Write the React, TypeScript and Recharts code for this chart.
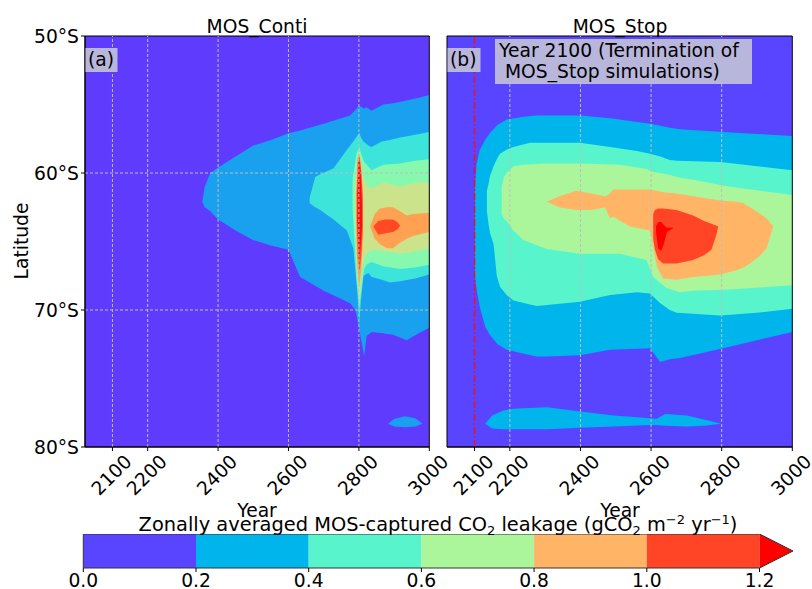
import React from 'react';
import { ComposedChart, Area, XAxis, YAxis, ReferenceLine, ReferenceArea, BarChart, Bar } from 'recharts';

// [year, northern edge °S, southern edge °S]
type Band = [number, number, number];

const FONT = '"DejaVu Sans", sans-serif';
const FS = 18.7;

const yearDomain: [number, number] = [2022, 3000];
const yearTicks = [2100, 2200, 2400, 2600, 2800, 3000];
const gridYearsA = [2100, 2200, 2400, 2600, 2800];
const gridYearsB = [2200, 2400, 2600, 2800];
const latTicks = [50, 60, 70, 80];
const gridLats = [60, 70];
const terminationYear = 2100;
const levelTicks = [0, 0.2, 0.4, 0.6, 0.8, 1.0, 1.2];

const contiColors = ['#5f3bfe', '#19a0ef', '#3de4d9', '#86f9af', '#cbe38b', '#ffa153', '#ff4a24', '#ff0d0d'];
const stopColors = ['#5945ff', '#00b5eb', '#58f5cd', '#abf69b', '#ffb466', '#ff4526', '#ff0000'];

const fullBand: Band[] = [[2022, 50, 80], [3000, 50, 80]];

// ---- MOS_Conti ----
const contiL1: Band[] = [
  [2355, 62.1, 62.1], [2362, 61.0, 62.5], [2378, 60.0, 62.8], [2400, 59.6, 63.4],
  [2450, 58.8, 64.2], [2500, 58.0, 64.9], [2550, 57.6, 65.3], [2600, 57.1, 65.6],
  [2633, 56.9, 67.6], [2700, 56.4, 68.6], [2750, 56.0, 69.2], [2775, 55.8, 69.5],
  [2790, 55.4, 70.0], [2800, 55.1, 71.3], [2815, 55.3, 73.4], [2822, 55.2, 71.9],
  [2836, 55.45, 71.6], [2869, 55.0, 71.7], [2897, 54.9, 71.8], [2936, 54.7, 72.2],
  [2970, 54.5, 71.7], [3000, 54.3, 71.3],
];
const contiL1South: Band[] = [
  [2883, 78.3, 78.3], [2900, 77.95, 78.5], [2931, 77.75, 78.55], [2960, 77.9, 78.5], [2981, 78.3, 78.3],
];
const contiL2: Band[] = [
  [2660, 61.8, 62.2], [2676, 60.3, 62.5], [2690, 60.1, 62.7], [2728, 59.66, 63.4],
  [2766, 58.3, 64.2], [2784, 57.7, 65.5], [2795, 57.3, 68.5], [2801, 57.06, 70.8],
  [2806, 57.4, 69.3], [2813, 57.7, 67.5], [2827, 58.0, 67.3], [2836, 58.1, 67.6],
  [2865, 57.7, 67.8], [2888, 57.6, 68.0], [2917, 57.4, 67.9], [2960, 57.2, 67.7], [3000, 57.0, 67.4],
];
const contiL3: Band[] = [
  [2782, 60.5, 62.5], [2793, 58.6, 67.5], [2801, 58.1, 69.8], [2808, 58.7, 68.3],
  [2815, 59.2, 67.0], [2822, 59.4, 66.7], [2836, 59.8, 66.5], [2869, 59.4, 66.8],
  [2917, 59.3, 67.0], [2960, 59.1, 66.9], [3000, 59.0, 66.7],
];
const contiL4: Band[] = [
  [2790, 61.0, 63.5], [2795, 59.3, 67.2], [2801, 58.5, 69.2], [2808, 59.5, 67.2],
  [2815, 60.5, 66.2], [2825, 61.0, 65.8], [2840, 61.1, 65.6], [2869, 60.7, 65.7],
  [2917, 61.0, 65.9], [2964, 60.7, 65.7], [3000, 60.7, 65.5],
];
const contiL5Spike: Band[] = [[2792, 61.5, 64.0], [2796, 59.0, 67.0], [2801, 58.6, 68.3], [2807, 59.6, 67.0], [2812, 61.5, 64.5]];
const contiL5: Band[] = [
  [2832, 63.9, 63.9], [2845, 63.0, 64.8], [2860, 62.6, 65.2], [2880, 62.5, 65.5], [2897, 62.5, 65.5],
  [2917, 62.8, 65.1], [2936, 63.1, 64.8], [2954, 63.0, 64.6], [3000, 62.9, 64.3],
];
const contiL6Spike: Band[] = [[2794, 61.5, 63.5], [2797, 59.2, 66.2], [2802, 58.8, 67.2], [2807, 60.0, 66.0], [2811, 62.0, 64.0]];
const contiL6: Band[] = [
  [2841, 63.9, 63.9], [2855, 63.5, 64.5], [2875, 63.4, 64.4], [2897, 63.4, 64.3], [2910, 63.6, 64.1], [2917, 63.85, 63.85],
];
const contiL7: Band[] = [[2796, 61.5, 63.5], [2799, 59.3, 65.5], [2802, 59.0, 66.2], [2806, 60.5, 65.0], [2809, 62.5, 63.8]];

// ---- MOS_Stop ----
const stopL1: Band[] = [
  [2101, 61.0, 67.5], [2106, 59.3, 68.5], [2115, 58.3, 69.8], [2130, 57.6, 71.2], [2143, 57.1, 71.8],
  [2165, 56.5, 72.5], [2191, 56.1, 72.9], [2240, 55.9, 73.2], [2276, 55.8, 73.4], [2305, 55.8, 73.4],
  [2398, 55.8, 73.3], [2484, 56.0, 72.9], [2597, 56.4, 72.8], [2626, 56.55, 73.8], [2653, 56.7, 73.6],
  [2682, 56.8, 73.5], [2804, 57.0, 72.8], [2900, 57.15, 72.2], [3000, 57.3, 71.6],
];
const stopL1South: Band[] = [
  [2130, 78.3, 78.3], [2150, 77.7, 78.65], [2180, 77.35, 78.7], [2210, 77.2, 78.7], [2305, 77.1, 78.7],
  [2399, 77.4, 78.6], [2494, 77.7, 78.5], [2597, 77.9, 78.4], [2615, 77.95, 78.4], [2640, 77.6, 78.45],
  [2701, 77.7, 78.5], [2750, 78.0, 78.45], [2798, 78.3, 78.3],
];
const stopL2: Band[] = [
  [2135, 61.3, 62.8], [2140, 60.75, 63.8], [2144, 60.2, 64.4], [2154, 59.5, 65.2], [2163, 59.0, 67.5],
  [2172, 58.6, 68.3], [2191, 58.3, 68.9], [2210, 58.1, 69.3], [2257, 57.8, 69.6], [2277, 57.8, 69.7],
  [2398, 57.8, 69.4], [2484, 58.1, 68.9], [2560, 58.4, 68.7], [2597, 58.6, 68.8], [2626, 58.8, 69.5],
  [2653, 59.05, 70.0], [2673, 59.1, 70.2], [2796, 59.2, 70.4], [2900, 59.5, 70.2], [3000, 59.8, 69.9],
];
const stopL3: Band[] = [
  [2177, 61.0, 63.0], [2183, 60.3, 63.3], [2191, 60.0, 63.5], [2210, 59.5, 64.2], [2239, 59.4, 64.9],
  [2305, 59.3, 65.55], [2399, 59.3, 65.9], [2512, 59.4, 65.9], [2587, 59.7, 66.35], [2606, 59.9, 67.6],
  [2644, 60.1, 68.4], [2682, 60.35, 68.7], [2719, 60.5, 68.6], [2823, 61.0, 68.5], [3000, 61.6, 68.2],
];
const stopL4: Band[] = [
  [2304, 62.1, 62.1], [2340, 61.7, 62.5], [2389, 61.3, 62.7], [2430, 61.5, 62.7], [2470, 61.7, 62.5],
  [2483, 61.5, 63.3], [2493, 61.2, 63.2], [2540, 61.2, 63.9], [2597, 61.2, 64.2], [2606, 61.25, 65.4],
  [2616, 61.3, 66.8], [2634, 61.4, 67.7], [2672, 61.5, 67.8], [2719, 61.7, 67.6], [2795, 62.0, 67.4],
  [2842, 62.1, 67.1], [2861, 62.2, 66.9], [2880, 62.5, 66.6], [2910, 63.0, 66.0], [2927, 63.3, 65.5], [2946, 63.9, 63.9],
];
const stopL5: Band[] = [
  [2606, 63.0, 64.8], [2611, 62.7, 65.6], [2620, 62.6, 66.3], [2634, 62.6, 66.6], [2672, 62.7, 66.6],
  [2719, 63.1, 66.35], [2750, 63.5, 66.0], [2771, 63.7, 65.6], [2785, 63.85, 64.5], [2790, 63.9, 63.9],
];
const stopL6: Band[] = [
  [2614, 63.9, 64.3], [2620, 63.6, 65.5], [2628, 63.55, 65.7], [2636, 63.8, 65.2], [2645, 64.0, 64.3], [2662, 64.0, 64.05],
];

const toRows = (pts: Band[]) => pts.map(([year, n, s]) => ({ year, band: [n, s] }));

const contiLayers: [Band[], string][] = [
  [fullBand, contiColors[0]],
  [contiL1, contiColors[1]],
  [contiL1South, contiColors[1]],
  [contiL2, contiColors[2]],
  [contiL3, contiColors[3]],
  [contiL4, contiColors[4]],
  [contiL5Spike, contiColors[5]],
  [contiL5, contiColors[5]],
  [contiL6Spike, contiColors[6]],
  [contiL6, contiColors[6]],
  [contiL7, contiColors[7]],
];

const stopLayers: [Band[], string][] = [
  [fullBand, stopColors[0]],
  [stopL1, stopColors[1]],
  [stopL1South, stopColors[1]],
  [stopL2, stopColors[2]],
  [stopL3, stopColors[3]],
  [stopL4, stopColors[4]],
  [stopL5, stopColors[5]],
  [stopL6, stopColors[6]],
];

const YearTick = ({ x, y, payload }: any) => (
  <text
    transform={`translate(${x - 1},${y + 22}) rotate(-45)`}
    textAnchor="middle"
    dominantBaseline="central"
    fontSize={FS}
    fontFamily={FONT}
    fill="#000"
  >
    {payload.value}
  </text>
);

function Panel({ layers, showLatAxis, gridYears, margin }: any) {
  return (
    <ComposedChart width={812} height={500} margin={margin}>
      <XAxis
        type="number"
        dataKey="year"
        domain={yearDomain}
        ticks={yearTicks}
        interval={0}
        allowDataOverflow
        height={53}
        tickSize={4}
        tick={<YearTick />}
        axisLine={{ stroke: '#000' }}
        tickLine={{ stroke: '#000' }}
      />
      <YAxis
        type="number"
        domain={[50, 80]}
        reversed
        ticks={latTicks}
        interval={0}
        allowDataOverflow
        hide={!showLatAxis}
        width={85}
        tickSize={4}
        tickFormatter={(v) => `${v}°S`}
        tick={{ fontSize: FS, fill: '#000', fontFamily: FONT }}
        axisLine={{ stroke: '#000' }}
        tickLine={{ stroke: '#000' }}
      />
      {layers.map(([pts, color]: [Band[], string], i: number) => (
        <Area
          key={i}
          data={toRows(pts)}
          dataKey="band"
          type="linear"
          stroke="none"
          fill={color}
          fillOpacity={1}
          dot={false}
          activeDot={false}
          isAnimationActive={false}
        />
      ))}
      {gridYears.map((yr: number) => (
        <ReferenceLine key={`gx${yr}`} x={yr} stroke="#bdbdbd" strokeDasharray="3 2" strokeWidth={1} />
      ))}
      {showLatAxis &&
        gridLats.map((lat) => (
          <ReferenceLine key={`gy${lat}`} y={lat} stroke="#bdbdbd" strokeDasharray="3 2" strokeWidth={1} />
        ))}
      {!showLatAxis && (
        <ReferenceLine x={terminationYear} stroke="#e8141e" strokeDasharray="7 2 2 2" strokeWidth={1.5} />
      )}
      <ReferenceArea x1={yearDomain[0]} x2={yearDomain[1]} y1={50} y2={80} fill="none" stroke="#000" strokeWidth={1} />
    </ComposedChart>
  );
}

const colorbarRow = [
  levelTicks.slice(1).reduce((row: any, v, i) => ({ ...row, [`seg${i}`]: v - levelTicks[i] }), { name: 'cb' }),
];

const LastSegment = (props: any) => {
  const { x, y, width, height, fill } = props;
  const tip = 33.5;
  const left = x - 5 * width;
  return (
    <g>
      <rect x={x} y={y} width={width} height={height} fill={fill} />
      <polygon points={`${x + width},${y} ${x + width + tip},${y + height / 2} ${x + width},${y + height}`} fill="#ff0000" />
      <polygon
        points={`${left},${y} ${x + width},${y} ${x + width + tip},${y + height / 2} ${x + width},${y + height} ${left},${y + height}`}
        fill="none"
        stroke="#333"
        strokeWidth={1}
      />
    </g>
  );
};

const LevelTick = ({ x, y, payload }: any) => (
  <text x={x} y={y + 6} textAnchor="middle" dominantBaseline="central" fontSize={FS} fontFamily={FONT} fill="#000">
    {payload.value.toFixed(1)}
  </text>
);

function Colorbar() {
  return (
    <BarChart width={812} height={55} data={colorbarRow} layout="vertical" barCategoryGap={0} margin={{ top: 0, left: 83.3, right: 52.5, bottom: 0 }}>
      <XAxis
        type="number"
        domain={[0, 1.2]}
        ticks={levelTicks}
        interval={0}
        height={21}
        tickSize={4}
        tick={<LevelTick />}
        axisLine={false}
        tickLine={{ stroke: '#000' }}
      />
      <YAxis type="category" dataKey="name" hide />
      {stopColors.slice(0, 6).map((c, i) => (
        <Bar
          key={i}
          dataKey={`seg${i}`}
          stackId="cb"
          fill={c}
          isAnimationActive={false}
          shape={i === 5 ? <LastSegment /> : undefined}
        />
      ))}
    </BarChart>
  );
}

export default function App() {
  const boxFill = '#b9b6dc';
  return (
    <div style={{ position: 'absolute', left: 0, top: 0, width: 812, height: 589, background: '#fff', fontFamily: FONT }}>
      <div style={{ position: 'absolute', left: 0, top: 0 }}>
        <Panel layers={contiLayers} showLatAxis gridYears={gridYearsA} margin={{ top: 36, right: 382.7, bottom: 0, left: 0 }} />
      </div>
      <div style={{ position: 'absolute', left: 0, top: 0 }}>
        <Panel layers={stopLayers} showLatAxis={false} gridYears={gridYearsB} margin={{ top: 36, right: 19.7, bottom: 0, left: 447 }} />
      </div>
      <div style={{ position: 'absolute', left: 0, top: 534 }}>
        <Colorbar />
      </div>
      <svg width={812} height={589} style={{ position: 'absolute', left: 0, top: 0, pointerEvents: 'none' }} fontFamily={FONT}>
        <text x={257} y={33} textAnchor="middle" fontSize={FS} fill="#000">MOS_Conti</text>
        <text x={620} y={33} textAnchor="middle" fontSize={FS} fill="#000">MOS_Stop</text>
        <text transform="translate(28,241) rotate(-90)" textAnchor="middle" fontSize={FS} fill="#000">Latitude</text>
        <text x={257} y={517} textAnchor="middle" fontSize={FS} fill="#000">Year</text>
        <text x={620} y={517} textAnchor="middle" fontSize={FS} fill="#000">Year</text>
        <text x={438} y={531} textAnchor="middle" fontSize={19.4} fill="#000">
          Zonally averaged MOS-captured CO
          <tspan dy={4} fontSize={13}>2</tspan>
          <tspan dy={-4}> leakage (gCO</tspan>
          <tspan dy={4} fontSize={13}>2</tspan>
          <tspan dy={-4}> m</tspan>
          <tspan dy={-7} fontSize={13}>−2</tspan>
          <tspan dy={7}> yr</tspan>
          <tspan dy={-7} fontSize={13}>−1</tspan>
          <tspan dy={7}>)</tspan>
        </text>
        <rect x={85.5} y={48} width={32} height={24} fill={boxFill} />
        <text x={88} y={66} fontSize={FS} fill="#000">(a)</text>
        <rect x={447.5} y={48} width={33} height={24} fill={boxFill} />
        <text x={450} y={66} fontSize={FS} fill="#000">(b)</text>
        <rect x={495} y={39} width={257} height={45} fill={boxFill} />
        <text x={499} y={57} fontSize={FS} fill="#000">Year 2100 (Termination of</text>
        <text x={505} y={78} fontSize={FS} fill="#000">MOS_Stop simulations)</text>
      </svg>
    </div>
  );
}
